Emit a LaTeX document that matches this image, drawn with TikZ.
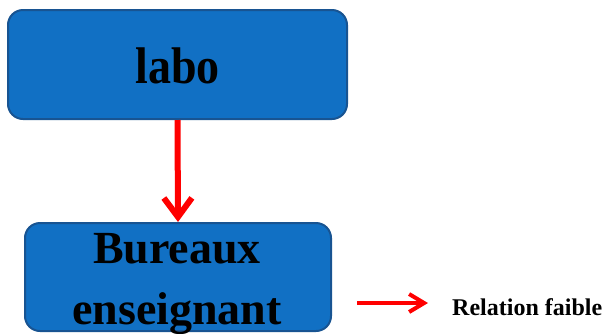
\documentclass[tikz,border=0pt]{standalone}
\usepackage{fontspec}
\setmainfont{Liberation Serif}
\usetikzlibrary{arrows.meta}
\definecolor{boxfill}{RGB}{17,112,196}
\definecolor{boxedge}{RGB}{24,84,146}
\definecolor{relred}{RGB}{255,0,0}
\tikzset{
  roombox/.style={draw=boxedge, line width=2pt, fill=boxfill, rounded corners=15pt,
    inner sep=0pt},
  roomtext/.style={inner sep=0pt, align=center,
    font=\bfseries\fontsize{46}{61}\selectfont},
  weaklink/.style={draw=relred, line width=6pt,
    -{Straight Barb[length=19pt, width=28pt, line width=6pt]}},
  legendlink/.style={draw=relred, line width=4pt,
    -{Straight Barb[length=15pt, width=18pt, line width=4pt]}}
}
\begin{document}
\begin{tikzpicture}[x=1pt, y=1pt]
  \useasboundingbox (0,0) rectangle (604,-333);
  % rooms
  \node[roombox, minimum width=339pt, minimum height=109pt] (labo) at (177.5,-64.5) {};
  \node[roomtext] (labotext) at (177.5,-65.5) {\scalebox{1}[1.12]{labo}};
  \node[roombox, minimum width=306pt, minimum height=108pt] (bureaux) at (178,-277) {};
  \node[roomtext] (bureauxtext) at (177,-284) {Bureaux\\enseignant};
  % relation between the rooms
  \draw[weaklink] (labo.south) -- (bureaux.north);
  % legend
  \coordinate (legstart) at (357,-303);
  \coordinate (legend) at (428,-303);
  \draw[legendlink] (legstart) -- (legend);
  \node[anchor=base west, inner sep=0pt, font=\bfseries\fontsize{24}{28}\selectfont] (legtext)
    at (452,-315) {Relation faible};
\end{tikzpicture}
\end{document}
